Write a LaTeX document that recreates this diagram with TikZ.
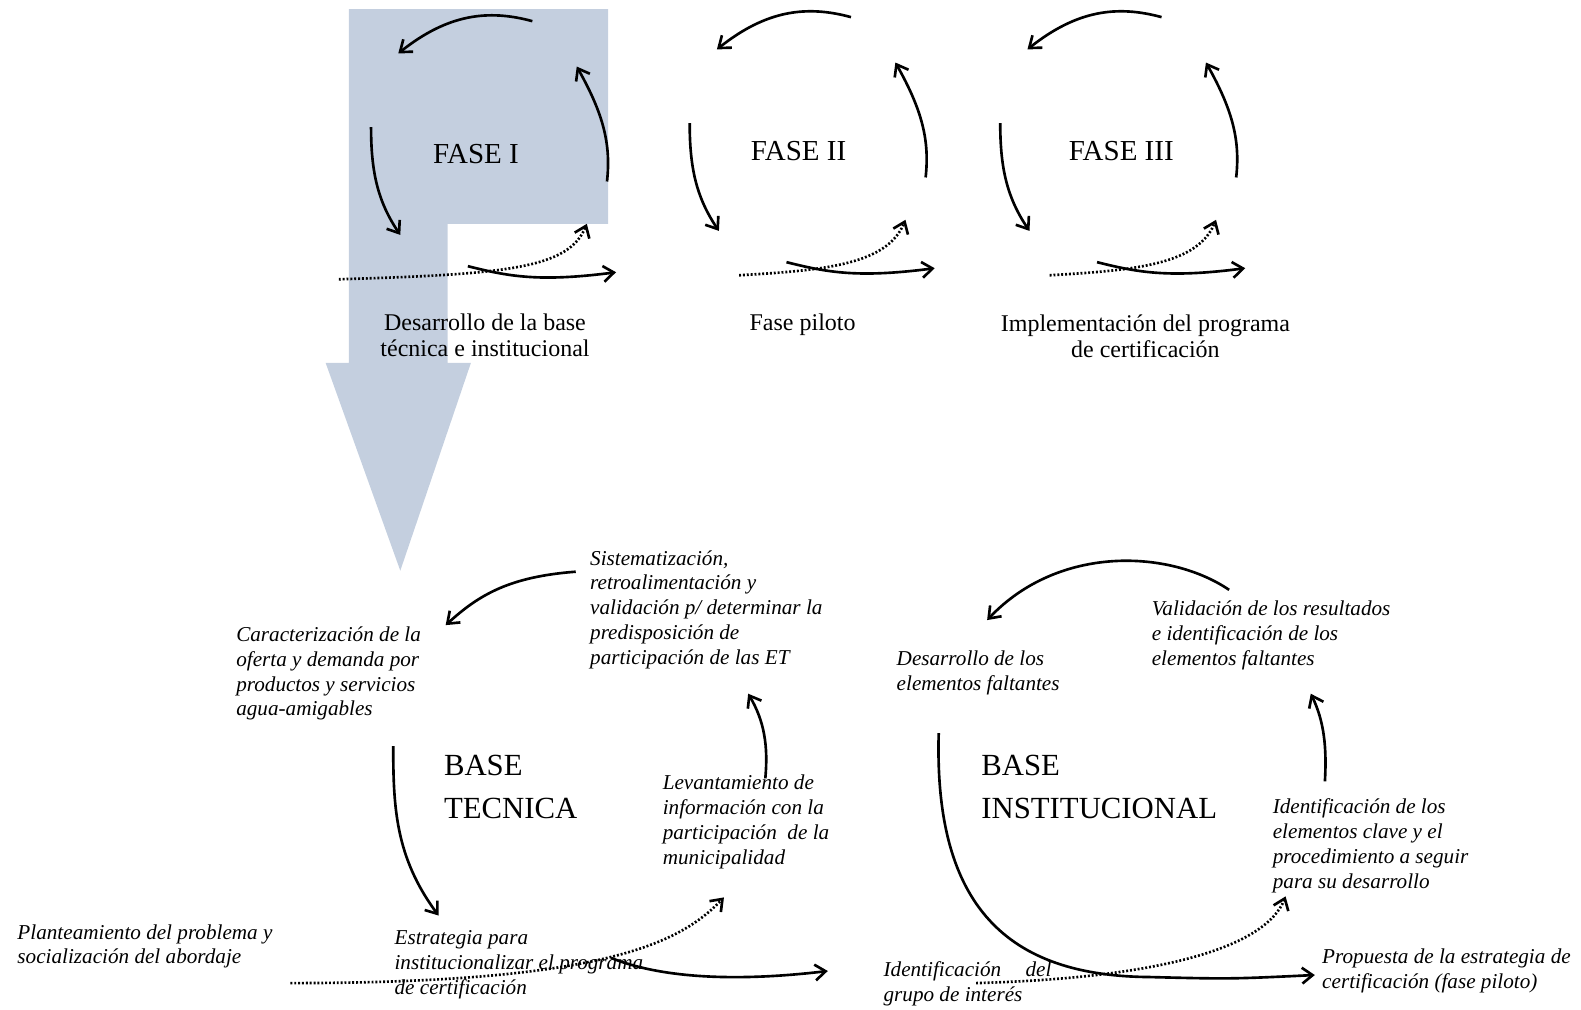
\documentclass[tikz,border=0pt]{standalone}
\usepackage{fontspec}
\setmainfont{Liberation Serif}
\usetikzlibrary{arrows.meta}
\definecolor{faseblue}{RGB}{196,207,223}
\tikzset{
	cyc/.style={line width=1.5pt, -{Straight Barb[length=6pt,width=9pt]}},
	dots/.style={cyc, dash pattern=on 1.1pt off 1.1pt},
	fase/.style={font=\fontsize{16.5pt}{19pt}\selectfont, anchor=base, inner sep=0pt},
	faselbl/.style={font=\fontsize{13.65pt}{14.9pt}\selectfont, align=center, anchor=base, inner sep=0pt},
	paso/.style={font=\fontsize{12.05pt}{14.15pt}\selectfont\itshape, align=left, anchor=base west, inner sep=0pt},
	basetxt/.style={font=\fontsize{17.5pt}{24.7pt}\selectfont, align=left, anchor=base west, inner sep=0pt}
}
\begin{document}
\begin{tikzpicture}[x=0.020166cm, y=-0.020166cm]
		\useasboundingbox (0,0) rectangle (1568,1001);
		% big arrow of fase I
		\fill [faseblue]
		(346,9) --
		(603,9) --
		(603,222) --
		(444,222) --
		(444,360) --
		(467,360) --
		(397,566) --
		(323,360) --
		(346,360) --
		cycle;

		% fase I
		\begin{scope}[shift={(476,154)}]
		\draw [cyc] (52,-133) .. controls (8,-145) and (-32,-140) .. (-81,-101);
		\draw [cyc] (126,26) .. controls (130,-10) and (123,-40) .. (96,-88);
		\draw [cyc] (-108,-28) .. controls (-108,15) and (-102,45) .. (-79,79);
		\draw [cyc] (-12,110) .. controls (28,120) and (58,126) .. (135,116);
		\draw [dots] (-140,123) .. controls (28,118) and (88,112) .. (106,68);
		\end{scope}
		% fase II
		\begin{scope}[shift={(792,150)}]
		\draw [cyc] (52,-133) .. controls (8,-145) and (-32,-140) .. (-81,-101);
		\draw [cyc] (126,26) .. controls (130,-10) and (123,-40) .. (96,-88);
		\draw [cyc] (-108,-28) .. controls (-108,15) and (-102,45) .. (-79,79);
		\draw [cyc] (-12,110) .. controls (28,120) and (58,126) .. (135,116);
		\draw [dots] (-59,123) .. controls (28,118) and (88,112) .. (106,68);
		\end{scope}
		% fase III
		\begin{scope}[shift={(1100,150)}]
		\draw [cyc] (52,-133) .. controls (8,-145) and (-32,-140) .. (-81,-101);
		\draw [cyc] (126,26) .. controls (130,-10) and (123,-40) .. (96,-88);
		\draw [cyc] (-108,-28) .. controls (-108,15) and (-102,45) .. (-79,79);
		\draw [cyc] (-12,110) .. controls (28,120) and (58,126) .. (135,116);
		\draw [dots] (-59,123) .. controls (28,118) and (88,112) .. (106,68);
		\end{scope}

		% labels sit on the baseline of their last line
		\node [fase] (fase1) at (472,162) {FASE I};
		\node [fase] (fase2) at (792,159) {FASE II};
		\node [fase] (fase3) at (1112,159) {FASE III};
		\node [faselbl] (desbase) at (481,354) {Desarrollo de la base\\técnica e institucional};
		\node [faselbl] (piloto) at (796,328) {Fase piloto};
		\node [faselbl] (implem) at (1136,355) {Implementación del programa\\de certificación};

		% base tecnica
		\node [basetxt] (basetec) at (440,812) {BASE\\TECNICA};
		\node [paso] (caract) at (234,710) {Caracterización de la\\oferta y demanda por\\productos y servicios\\agua-amigables};
		\node [paso] (sistem) at (585,659) {Sistematización,\\retroalimentación y\\validación p/ determinar la\\predisposición de\\participación de las ET};
		\node [paso] (levant) at (657,857) {Levantamiento de\\información con la\\participación\ \ de la\\municipalidad};
		\node [paso] (estrat) at (391,986) {Estrategia para\\institucionalizar el programa\\de certificación};
		\node [paso] (plant) at (17,956) {Planteamiento del problema y\\socialización del abordaje};

		\coordinate (sistem-out) at (571,567);
		\coordinate (caract-in) at (442,620);
		\coordinate (caract-out) at (390,740);
		\coordinate (estrat-in) at (435,908);
		\coordinate (estrat-out) at (606,950);
		\coordinate (estrat-end) at (821,963);
		\coordinate (plant-out) at (288,975);
		\coordinate (levant-in) at (718,890);
		\coordinate (levant-out) at (759,772);
		\coordinate (sistem-in) at (742,688);

		\draw [cyc] (sistem-out) .. controls (505,572) and (475,590) .. (caract-in);
		\draw [cyc] (caract-out) .. controls (390,800) and (392,850) .. (estrat-in);
		\draw [cyc] (estrat-out) .. controls (650,968) and (720,975) .. (estrat-end);
		\draw [dots] (plant-out) .. controls (600,975) and (675,935) .. (levant-in);
		\draw [cyc] (levant-out) .. controls (762,740) and (758,715) .. (sistem-in);

		% base institucional
		\node [basetxt] (baseinst) at (973,812) {BASE\\INSTITUCIONAL};
		\node [paso] (desarr) at (889,685) {Desarrollo de los\\elementos faltantes};
		\node [paso] (valid) at (1142,660) {Validación de los resultados\\e identificación de los\\elementos faltantes};
		\node [paso] (identclave) at (1262,881) {Identificación de los\\elementos clave y el\\procedimiento a seguir\\para su desarrollo};
		\node [paso] (identgrupo) at (876,993) {Identificación\hspace{1.15em}del\\grupo de interés};
		\node [paso] (propuesta) at (1311,980) {Propuesta de la estrategia de\\certificación (fase piloto)};

		\coordinate (valid-out) at (1219,585);
		\coordinate (desarr-in) at (979,615);
		\coordinate (desarr-out) at (931,727);
		\coordinate (propuesta-in) at (1304,967);
		\coordinate (identgrupo-out) at (968,975);
		\coordinate (identclave-in) at (1275,889);
		\coordinate (identclave-out) at (1314,775);
		\coordinate (valid-in) at (1300,688);

		\draw [cyc] (valid-out) .. controls (1160,545) and (1050,540) .. (desarr-in);
		\draw [cyc] (desarr-out) .. controls (926,900) and (1000,968) .. (1140,969) .. controls (1220,971) .. (propuesta-in);
		\draw [dots] (identgrupo-out) .. controls (1150,970) and (1255,940) .. (identclave-in);
		\draw [cyc] (identclave-out) .. controls (1316,740) and (1313,715) .. (valid-in);
	\end{tikzpicture}
\end{document}
